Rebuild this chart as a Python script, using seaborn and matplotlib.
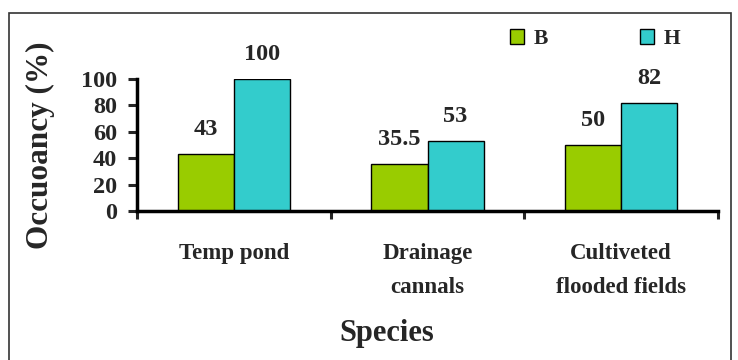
import matplotlib
matplotlib.use("Agg")
import matplotlib.pyplot as plt
import matplotlib.patches as mpatches
import seaborn as sns
import pandas as pd
from matplotlib.ticker import FixedLocator

categories = ["Temp pond", "Drainage\ncannals", "Cultiveted\nflooded fields"]
series_names = ["B", "H"]
values_B = [43, 35.5, 50]
values_H = [100, 53, 82]
label_B = ["43", "35.5", "50"]
label_H = ["100", "53", "82"]
yticks = [0, 20, 40, 60, 80, 100]

sns.set_theme(style="white")
plt.rcParams["font.family"] = ["Liberation Serif", "DejaVu Serif"]
plt.rcParams["font.weight"] = "bold"

df = pd.DataFrame({
    "cat": categories * 2,
    "series": ["B"] * 3 + ["H"] * 3,
    "value": values_B + values_H,
})

fig = plt.figure(figsize=(7.38, 3.6), dpi=100)
ax = fig.add_axes([137/738, 1 - 211/360, (718-137)/738, (211-79)/360])

palette = {"B": "#99CC00", "H": "#33CCCC"}
sns.barplot(data=df, x="cat", y="value", hue="series", order=categories,
            hue_order=series_names, palette=palette, width=0.58,
            edgecolor="black", linewidth=1.0, saturation=1, ax=ax, legend=False)

for cont, labs in zip(ax.containers, [label_B, label_H]):
    ax.bar_label(cont, labels=labs, padding=10, fontsize=17.5, fontweight="bold")

ax.set_xlim(-0.5, 2.5)
ax.set_ylim(0, 100)
ax.set_yticks(yticks)
ax.set_yticklabels([str(t) for t in yticks], fontsize=17.5, fontweight="bold")
ax.set_xticks(range(3))
ax.set_xticklabels(categories, fontsize=16.5, fontweight="bold", linespacing=1.8)
ax.xaxis.set_minor_locator(FixedLocator([-0.5, 0.5, 1.5, 2.5]))
ax.tick_params(axis="x", which="major", length=0, pad=23)
ax.tick_params(axis="x", which="minor", length=6, width=2.2, direction="out", bottom=True)
ax.tick_params(axis="y", which="major", length=6.5, width=2.2, direction="out", left=True, pad=8)

for s in ["top", "right"]:
    ax.spines[s].set_visible(False)
for s in ["left", "bottom"]:
    ax.spines[s].set_linewidth(2.5)
    ax.spines[s].set_color("black")

ax.set_xlabel("")
ax.set_ylabel("")
fig.text(387/738, 1 - 334/360, "Species", fontsize=22, fontweight="bold",
         ha="center", va="center")
fig.text(40/738, 1 - 145/360, "Occuoancy (%)", rotation=90, fontsize=22.5,
         fontweight="bold", ha="center", va="center")

handles = [mpatches.Patch(facecolor=palette[n], edgecolor="black", linewidth=1.0, label=n)
           for n in series_names]
fig.legend(handles=handles, loc="center", bbox_to_anchor=(595/738, 1 - 39/360),
           ncol=2, frameon=False, handlelength=0.65, handleheight=0.65,
           columnspacing=4.3, handletextpad=0.45, prop={"weight": "bold", "size": 15.5})

fig.patches.append(mpatches.Rectangle((9/738, -0.1), (731-9)/738, 1.1 - 13/360,
                                      transform=fig.transFigure, fill=False,
                                      edgecolor="#333333", linewidth=1.2))

fig.savefig("out.png", dpi=100)
